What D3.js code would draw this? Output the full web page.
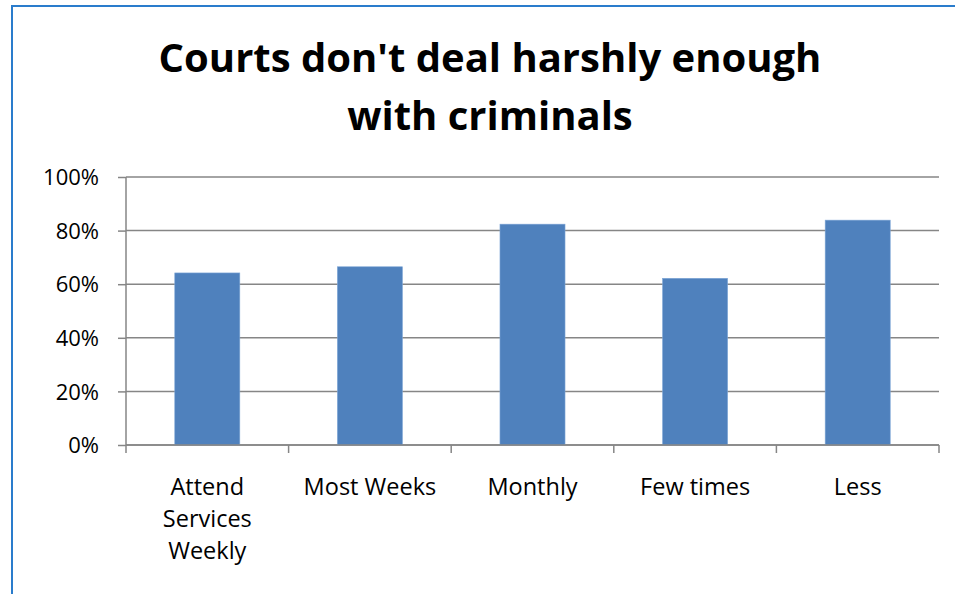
<!DOCTYPE html>
<html><head><meta charset="utf-8">
<script src="https://cdn.jsdelivr.net/npm/d3@7"></script>
<style>html,body{margin:0;padding:0;background:#fff;overflow:hidden}</style>
</head><body>
<svg id="chart" width="955" height="594"></svg>
<script>
const categories = ["Attend Services Weekly", "Most Weeks", "Monthly", "Few times", "Less"];
const categoryLines = [["Attend", "Services", "Weekly"], ["Most Weeks"], ["Monthly"], ["Few times"], ["Less"]];
const values = [0.642, 0.665, 0.824, 0.622, 0.839];
const yTicks = [0, 0.2, 0.4, 0.6, 0.8, 1.0];
const titleLines = ["Courts don't deal harshly enough", "with criminals"];

const svg = d3.select("#chart");
const font = "'Open Sans', 'Liberation Sans', sans-serif";

// outer border
svg.append("rect").attr("x", 12).attr("y", 6).attr("width", 960).attr("height", 600)
  .attr("fill", "#fff").attr("stroke", "#2a7ccc").attr("stroke-width", 2);

const pLeft = 126, pRight = 939, pTop = 177, pBottom = 445;
const x = d3.scaleBand().domain(categories).range([pLeft, pRight]).paddingInner(0.6).paddingOuter(0.3);
const y = d3.scaleLinear().domain([0, 1]).range([pBottom, pTop]);

// title
svg.append("g").selectAll("text").data(titleLines).join("text")
  .attr("x", 490).attr("y", (d, i) => 72 + i * 58)
  .attr("text-anchor", "middle").attr("font-family", font).attr("font-weight", 700)
  .attr("font-size", 40).attr("fill", "#000").text(d => d);

// gridlines
svg.append("g").selectAll("line").data(yTicks).join("line")
  .attr("x1", pLeft).attr("x2", pRight).attr("y1", d => y(d)).attr("y2", d => y(d))
  .attr("stroke", "#868686").attr("stroke-width", 1.5);

// y axis
const yAxis = d3.axisLeft(y).tickValues(yTicks).tickFormat(d3.format(".0%")).tickSize(8).tickPadding(19);
const gy = svg.append("g").attr("transform", `translate(${pLeft},0)`).call(yAxis);
gy.select(".domain").attr("stroke", "#868686").attr("stroke-width", 1.5).attr("d", `M0,${pTop}V${pBottom}`);
gy.selectAll(".tick line").attr("stroke", "#868686").attr("stroke-width", 1.5);
gy.selectAll(".tick text").attr("font-family", font).attr("font-size", 22).attr("fill", "#000").attr("dy", "0.35em");

// bars
svg.append("g").selectAll("rect").data(values).join("rect")
  .attr("x", (d, i) => x(categories[i])).attr("width", x.bandwidth())
  .attr("y", d => y(d)).attr("height", d => y(0) - y(d))
  .attr("fill", "#4f81bd").attr("stroke", "#7ea6d6").attr("stroke-width", 0.6);

// x axis
const gx = svg.append("g").attr("transform", `translate(0,${pBottom})`);
gx.append("line").attr("x1", pLeft).attr("x2", pRight).attr("stroke", "#868686").attr("stroke-width", 1.5);
const boundaries = d3.range(categories.length + 1).map(i => pLeft + i * (pRight - pLeft) / categories.length);
gx.selectAll("line.tk").data(boundaries).join("line").attr("class", "tk")
  .attr("x1", d => d).attr("x2", d => d).attr("y1", 0).attr("y2", 8)
  .attr("stroke", "#868686").attr("stroke-width", 1.5);
const lbl = gx.selectAll("text.lb").data(categories).join("text").attr("class", "lb")
  .attr("text-anchor", "middle").attr("font-family", font).attr("font-size", 23.5).attr("fill", "#000")
  .attr("transform", d => `translate(${x(d) + x.bandwidth() / 2},50)`);
lbl.each(function(d, i) {
  d3.select(this).selectAll("tspan").data(categoryLines[i]).join("tspan")
    .attr("x", 0).attr("y", (t, j) => j * 32).text(t => t);
});
</script>
</body></html>
